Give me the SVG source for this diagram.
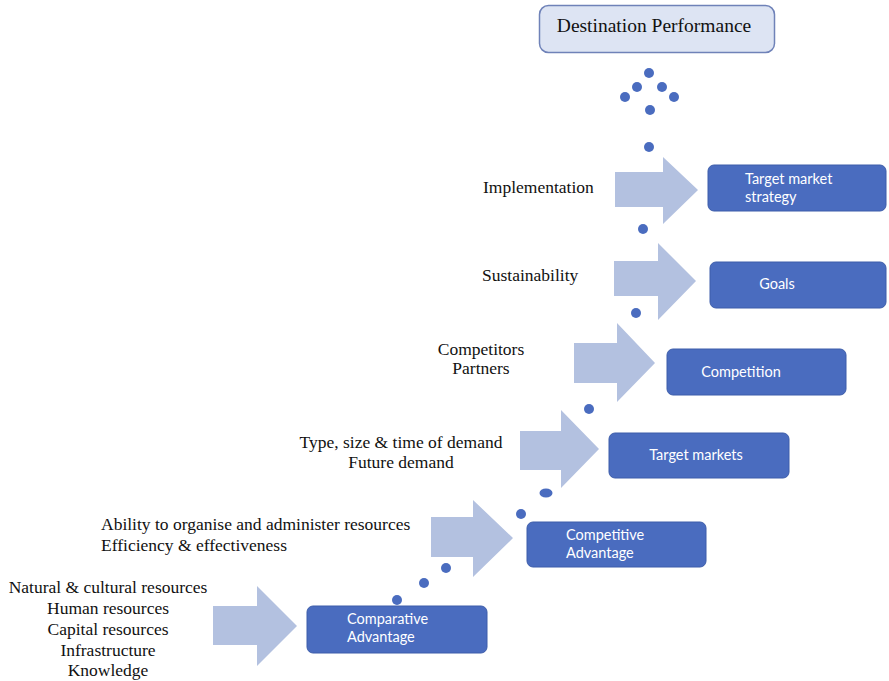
<svg xmlns="http://www.w3.org/2000/svg" width="889" height="681" viewBox="0 0 889 681">
  <style>
    .box { fill: #4a6cbf; stroke: #3d5daa; stroke-width: 1; }
    .box-text { fill: #ffffff; font-family: Lato, "Open Sans", "Liberation Sans", sans-serif; font-size: 14.5px; }
    .label { fill: #111111; font-family: "Liberation Serif", "Times New Roman", serif; font-size: 17.5px; }
    .arrow { fill: #b3c1e0; }
    .dot { fill: #4a6cbf; }
  </style>

  <!-- block arrows feeding each stage -->
  <g id="arrows">
    <polygon class="arrow" points="213,606 257,606 257,586 297,626 257,666 257,645 213,645"/>
    <polygon class="arrow" points="431,517 473,517 473,500 513,538 473,577 473,557 431,557"/>
    <polygon class="arrow" points="520,431 561,431 561,410 599,449 561,488 561,470 520,470"/>
    <polygon class="arrow" points="574,343 617,343 617,323 655,363 617,402 617,383 574,383"/>
    <polygon class="arrow" points="614,261 658,261 658,243 696,281 658,320 658,296 614,296"/>
    <polygon class="arrow" points="615,172 663,172 663,157 698,190 663,224 663,207 615,207"/>
  </g>

  <!-- dotted path rising through the stages -->
  <g id="connectors">
    <circle class="dot" cx="397" cy="600" r="5"/>
    <circle class="dot" cx="424" cy="583" r="5"/>
    <circle class="dot" cx="446" cy="568" r="5"/>
    <circle class="dot" cx="521" cy="514" r="5"/>
    <ellipse class="dot" cx="546" cy="493" rx="6.5" ry="4.5"/>
    <circle class="dot" cx="589" cy="409" r="5"/>
    <circle class="dot" cx="636" cy="313" r="5"/>
    <circle class="dot" cx="643" cy="229" r="5"/>
    <circle class="dot" cx="649" cy="147" r="5"/>
    <circle class="dot" cx="650" cy="110" r="5"/>
    <circle class="dot" cx="625" cy="97" r="5"/>
    <circle class="dot" cx="674" cy="97" r="5"/>
    <circle class="dot" cx="637" cy="87" r="5"/>
    <circle class="dot" cx="662" cy="87" r="5"/>
    <circle class="dot" cx="649" cy="73" r="5"/>
  </g>

  <g id="destination-performance">
    <rect x="539.5" y="5.5" width="235" height="47" rx="9" fill="#dde4f3" stroke="#6f82b8" stroke-width="1.5"/>
    <text x="654" y="32" text-anchor="middle" font-family="Liberation Serif, Times New Roman, serif" font-size="19.5" fill="#111111">Destination Performance</text>
  </g>

  <g id="target-market-strategy">
    <rect class="box" x="708" y="165" width="178" height="46" rx="6"/>
    <text class="box-text"><tspan x="745" y="184">Target market</tspan><tspan x="745" y="201.5">strategy</tspan></text>
  </g>

  <g id="goals">
    <rect class="box" x="710" y="262" width="176" height="46" rx="6"/>
    <text class="box-text" x="777" y="289" text-anchor="middle">Goals</text>
  </g>

  <g id="competition">
    <rect class="box" x="667" y="349" width="179" height="46" rx="6"/>
    <text class="box-text" x="741" y="377" text-anchor="middle">Competition</text>
  </g>

  <g id="target-markets">
    <rect class="box" x="609" y="433" width="180" height="45" rx="6"/>
    <text class="box-text" x="696" y="460" text-anchor="middle">Target markets</text>
  </g>

  <g id="competitive-advantage">
    <rect class="box" x="527" y="522" width="179" height="45" rx="6"/>
    <text class="box-text"><tspan x="566" y="540">Competitive</tspan><tspan x="566" y="557.5">Advantage</tspan></text>
  </g>

  <g id="comparative-advantage">
    <rect class="box" x="307" y="606" width="180" height="47" rx="6"/>
    <text class="box-text"><tspan x="347" y="624">Comparative</tspan><tspan x="347" y="641.5">Advantage</tspan></text>
  </g>

  <!-- driver labels beside each arrow -->
  <g id="labels">
    <text class="label" x="483" y="193">Implementation</text>
    <text class="label" x="482" y="281">Sustainability</text>
    <text class="label" x="481" y="355" text-anchor="middle">Competitors</text>
    <text class="label" x="481" y="374" text-anchor="middle">Partners</text>
    <text class="label" x="401" y="448" text-anchor="middle">Type, size &amp; time of demand</text>
    <text class="label" x="401" y="468" text-anchor="middle">Future demand</text>
    <text class="label" x="101" y="530">Ability to organise and administer resources</text>
    <text class="label" x="101" y="551">Efficiency &amp; effectiveness</text>
    <text class="label" x="108" y="593" text-anchor="middle">Natural &amp; cultural resources</text>
    <text class="label" x="108" y="614" text-anchor="middle">Human resources</text>
    <text class="label" x="108" y="635" text-anchor="middle">Capital resources</text>
    <text class="label" x="108" y="656" text-anchor="middle">Infrastructure</text>
    <text class="label" x="108" y="676" text-anchor="middle">Knowledge</text>
  </g>
</svg>
